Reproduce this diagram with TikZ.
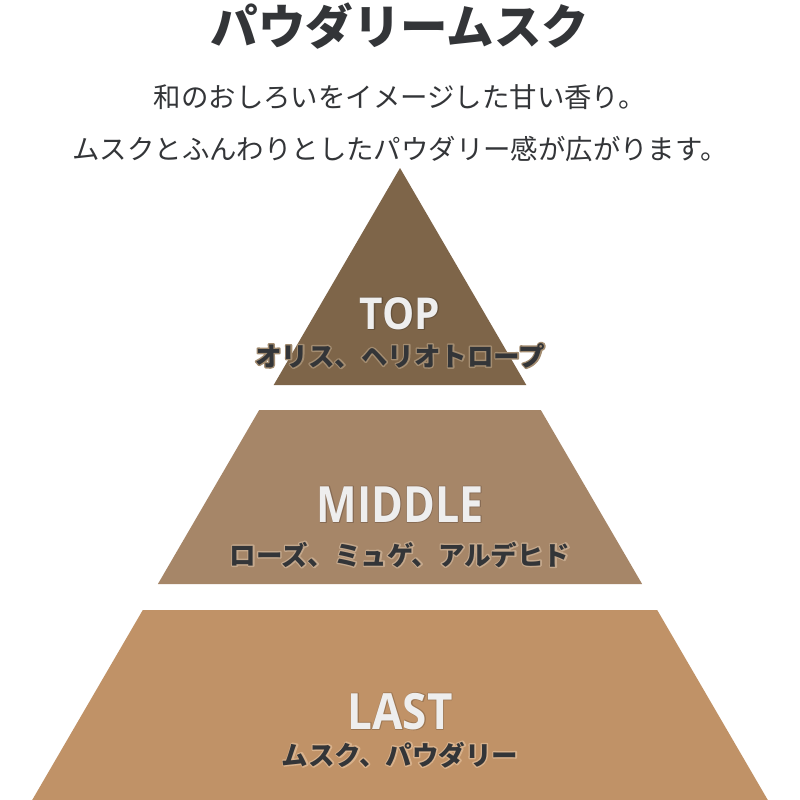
\documentclass[tikz,border=0pt]{standalone}
\usepackage{fontspec}
\newfontfamily\jp{Noto Sans CJK JP}
\newfontfamily\lat{Open Sans}
\definecolor{ink}{HTML}{333538}
\definecolor{tierA}{HTML}{7E6549}
\definecolor{tierB}{HTML}{A68668}
\definecolor{tierC}{HTML}{C09267}
\definecolor{labelw}{HTML}{EEEEEE}
\tikzset{
  titletext/.style={font=\jp\bfseries\fontsize{47.5}{50}\selectfont, text=ink, inner sep=0pt, anchor=base},
  leadtext/.style={font=\jp\fontsize{27.4}{30}\selectfont, text=ink, inner sep=0pt, anchor=base},
  tiername/.style={font=\lat\bfseries\fontsize{#1}{#1}\selectfont, text=labelw, inner sep=0pt, anchor=base},
  notetext/.style={font=\jp\bfseries\fontsize{26.5}{30}\selectfont, text=ink, inner sep=0pt, anchor=base},
}
% text with a halo: a stroked copy under the filled text.
% #1 halo rgb, #2 halo width, #3 text rgb, #4 text
\newcommand\haloed[4]{%
  \rlap{\special{pdf:literal direct 2 Tr #2 w 1 j #1 RG #1 rg}#4}%
  \special{pdf:literal direct 0 Tr #3 rg #3 RG}#4}
\begin{document}
\begin{tikzpicture}[x=1pt,y=-1pt]
\useasboundingbox (0,0) rectangle (800,800);
\fill[white] (0,0) rectangle (800,800);
% tiers
\fill[tierA] (400,168) -- (526.3,385) -- (273.7,385) -- cycle;
\fill[tierB] (259.2,410) -- (540.8,410) -- (642.1,584) -- (157.9,584) -- cycle;
\fill[tierC] (142.8,610) -- (657.2,610) -- (767.8,800) -- (32.2,800) -- cycle;
% texts
\node[titletext] (title) at (400,45) {パウダリームスク};
\node[leadtext] (lineA) at (400,107) {和のおしろいをイメージした甘い香り。};
\node[leadtext] (lineB) at (400,159) {ムスクとふんわりとしたパウダリー感が広がります。};
\node[tiername=44] (topname) at (400,329) {\scalebox{0.92}[1]{\haloed{0.40 0.32 0.23}{1.6}{0.933 0.933 0.933}{TOP}}};
\node[tiername=50] (midname) at (400,522) {\scalebox{0.86}[1]{\haloed{0.53 0.42 0.33}{1.6}{0.933 0.933 0.933}{MIDDLE}}};
\node[tiername=50] (lastname) at (400,729) {\scalebox{0.88}[1]{\haloed{0.62 0.47 0.33}{1.6}{0.933 0.933 0.933}{LAST}}};
\node[notetext] (topnote) at (400,366) {\haloed{0.64 0.55 0.44}{2.8}{0.2 0.208 0.22}{オリス、ヘリオトロープ}};
\node[notetext] (midnote) at (400,565) {\haloed{0.77 0.66 0.55}{2.8}{0.2 0.208 0.22}{ローズ、ミュゲ、アルデヒド}};
\node[notetext] (lastnote) at (400,765) {\haloed{0.85 0.70 0.55}{2.8}{0.2 0.208 0.22}{ムスク、パウダリー}};
\end{tikzpicture}
\end{document}
